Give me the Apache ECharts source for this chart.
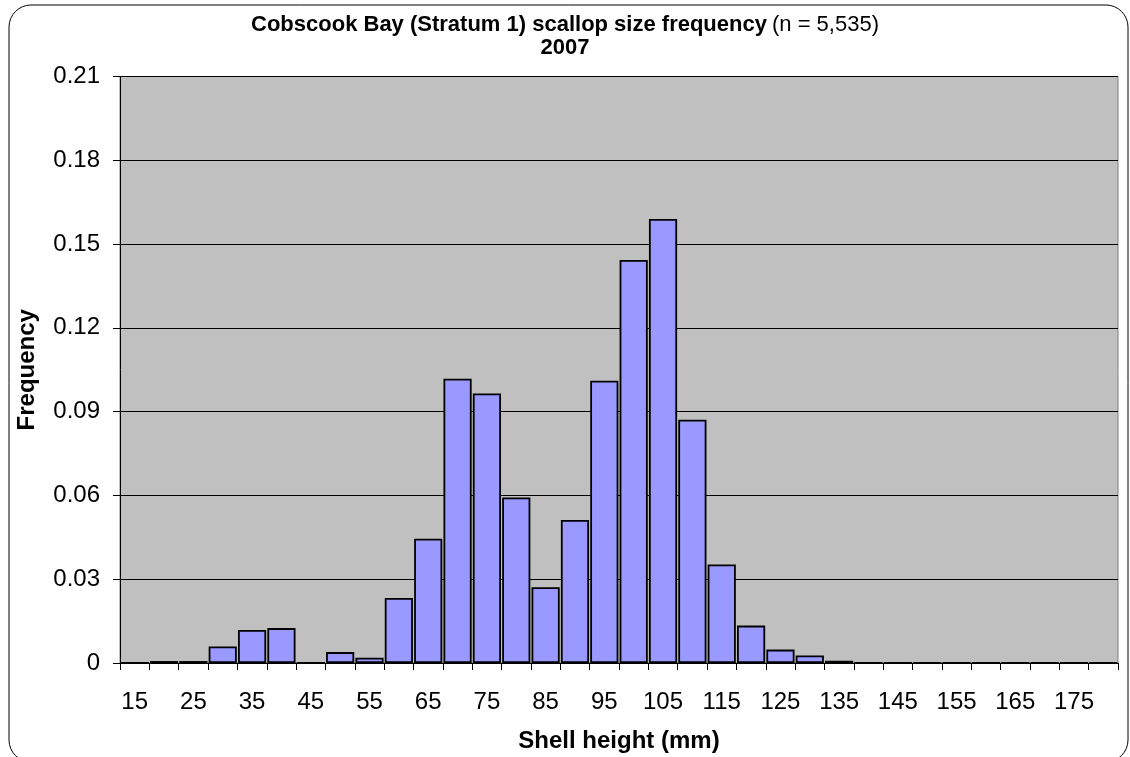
<!DOCTYPE html>
<html>
<head>
<meta charset="utf-8">
<script src="https://cdn.jsdelivr.net/npm/echarts@6/dist/echarts.min.js"></script>
<style>
html,body{margin:0;padding:0;background:#fff;}
#chart{width:1130px;height:757px;}
</style>
</head>
<body>
<div id="chart"></div>
<script>
// Shell height classes (mm)
const categories = ['15','20','25','30','35','40','45','50','55','60','65','70','75','80','85','90','95','100','105','110','115','120','125','130','135','140','145','150','155','160','165','170','175','180'];
// Frequency per class
const frequency = [0,0.0007,0.0007,0.0059,0.0118,0.0125,0,0.0039,0.0019,0.0233,0.0445,0.1018,0.0965,0.0593,0.0271,0.0512,0.1011,0.1443,0.159,0.0871,0.0353,0.0134,0.0048,0.0027,0.0008,0,0,0,0,0,0,0,0,0];
const titleMain = 'Cobscook Bay (Stratum 1) scallop size frequency';
const titleN = '(n = 5,535)';
const titleYear = '2007';
const xName = 'Shell height (mm)';
const yName = 'Frequency';

const chart = echarts.init(document.getElementById('chart'), null, {renderer:'canvas'});
const FONT = '"Liberation Sans", Arial, sans-serif';
chart.setOption({
  animation:false,
  backgroundColor:'#ffffff',
  textStyle:{fontFamily:FONT},
  graphic:[{
    type:'rect', z:-1, silent:true,
    shape:{x:9, y:5, width:1119, height:757, r:22},
    style:{fill:'none', stroke:'#000', lineWidth:1}
  }],
  title:{
    text:'{b|'+titleMain+'} {n|'+titleN+'}\n{b|'+titleYear+'}',
    left:'center', top:13, padding:0,
    textStyle:{
      rich:{
        b:{fontFamily:FONT, fontWeight:'bold', fontSize:22, color:'#000', lineHeight:23},
        n:{fontFamily:FONT, fontWeight:'normal', fontSize:22, color:'#000', lineHeight:23}
      }
    }
  },
  grid:{left:120, right:12, top:76.5, bottom:94, show:true, backgroundColor:'#C0C0C0', borderColor:'#808080', borderWidth:1, containLabel:false, outerBoundsMode:'none'},
  xAxis:{
    type:'category', data:categories,
    name:xName, nameLocation:'middle', nameGap:66,
    nameTextStyle:{fontFamily:FONT, fontWeight:'bold', fontSize:24, color:'#000'},
    axisLine:{show:true, lineStyle:{color:'#000', width:1}},
    axisTick:{show:true, interval:0, length:7, lineStyle:{color:'#000'}},
    axisLabel:{interval:1, margin:27, fontFamily:FONT, fontSize:24, color:'#000'},
    splitLine:{show:false}
  },
  yAxis:{
    type:'value', min:0, max:0.21, interval:0.03,
    name:yName, nameLocation:'middle', nameGap:81, nameRotate:90,
    nameTextStyle:{fontFamily:FONT, fontWeight:'bold', fontSize:24, color:'#000'},
    axisLine:{show:true, lineStyle:{color:'#000', width:1}},
    axisTick:{show:true, length:7, lineStyle:{color:'#000'}},
    axisLabel:{margin:20, fontFamily:FONT, fontSize:24, color:'#000',
      formatter:function(v){ return v===0 ? '0' : (+v.toFixed(2)).toString(); }},
    splitLine:{show:true, lineStyle:{color:'#000', width:1}}
  },
  series:[{
    type:'bar', data:frequency,
    barCategoryGap:'4%',
    itemStyle:{color:'#9999FF', borderColor:'#000', borderWidth:1.8}
  }]
});
</script>
</body>
</html>
